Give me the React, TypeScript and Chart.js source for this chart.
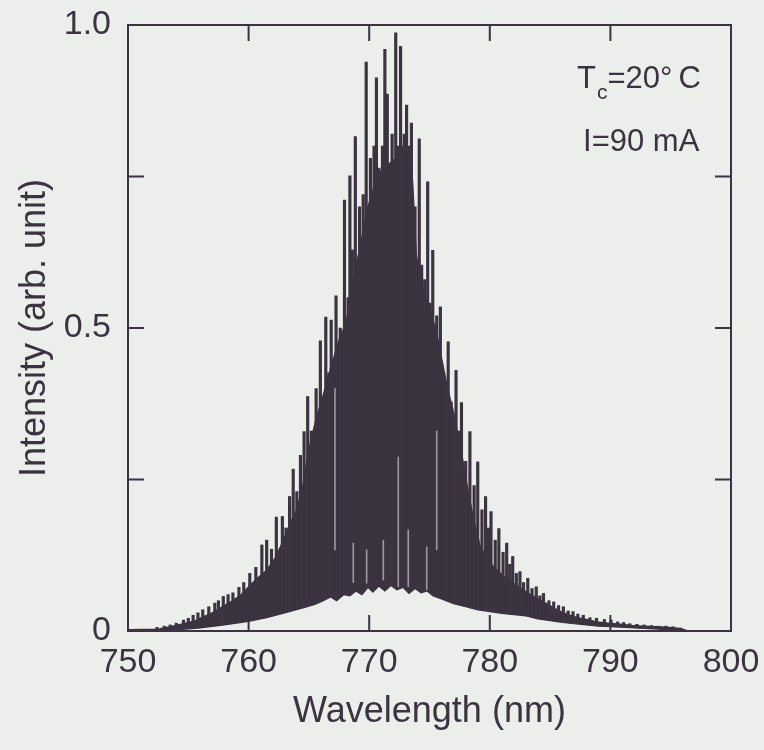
import React, { useEffect, useRef } from "react";
import { Chart, registerables } from "chart.js";

Chart.register(...registerables);

const FONT = '"Liberation Sans", Arial, Helvetica, sans-serif';
const INK = "#3b3340";
const PAPER = "#eceeeb";
const GAP = "#9b96a0";

// ---- axis ticks ----
const xTickValues = [750, 760, 770, 780, 790, 800];
const yTickValues = [0, 0.25, 0.5, 0.75, 1.0];
const yTickLabels = ["0", "", "0.5", "", "1.0"];

// ---- dense "body" of the spectrum: upper envelope of the solid dark region ----
const bodyWavelengths = [
  750, 752.5, 753.2, 754.0, 754.6, 755.5, 756.0, 756.8, 757.4, 758.0, 758.7, 759.4,
  760.1, 760.8, 761.5, 762.2, 762.9, 763.5, 764.0, 764.5, 765.0, 765.6, 766.2, 766.9,
  767.5, 768.1, 768.7, 769.3, 769.9, 770.5, 771.0, 771.6, 772.2, 772.8, 773.3, 773.6,
  773.9, 774.5, 775.0, 775.5, 776.0, 776.5, 777.0, 777.6, 778.2, 778.7, 779.2, 779.9,
  780.6, 781.2, 781.9, 782.6, 783.3, 784.0, 784.7, 785.4, 786.1, 786.8, 787.5, 788.2,
  788.9, 789.8, 790.8, 791.8, 792.8, 793.8, 794.6, 795.4, 796.0, 796.4, 800,
];
const bodyTop = [
  0.002, 0.003, 0.006, 0.009, 0.012, 0.016, 0.021, 0.028, 0.035, 0.042, 0.050, 0.060,
  0.075, 0.088, 0.10, 0.12, 0.15, 0.18, 0.20, 0.24, 0.30, 0.35, 0.39, 0.44,
  0.48, 0.51, 0.58, 0.64, 0.70, 0.74, 0.76, 0.77, 0.78, 0.80, 0.79, 0.74,
  0.62, 0.56, 0.53, 0.50, 0.45, 0.40, 0.36, 0.30, 0.23, 0.18, 0.14, 0.115,
  0.10, 0.09, 0.08, 0.07, 0.061, 0.053, 0.045, 0.037, 0.030, 0.025, 0.021, 0.018,
  0.015, 0.013, 0.011, 0.009, 0.008, 0.007, 0.006, 0.005, 0.003, 0.0, 0.0,
];

// ---- lower edge (minima) of the mode oscillation ----
const floorWavelengths = [
  750, 752.5, 754, 756, 758, 760, 761.5, 763, 764.5, 765.5, 766.2, 766.8, 767.3, 767.9,
  768.4, 768.9, 769.4, 769.9, 770.3, 770.8, 771.3, 771.8, 772.3, 772.8, 773.3, 773.8,
  774.3, 774.8, 775.3, 776, 777, 778, 779, 780, 781, 782, 783, 784,
  785, 786, 787, 788, 789, 790, 792, 794, 796, 800,
];
const floorLevel = [
  0, 0, 0.002, 0.005, 0.01, 0.016, 0.022, 0.03, 0.038, 0.044, 0.05, 0.056, 0.05, 0.06,
  0.058, 0.066, 0.06, 0.072, 0.064, 0.074, 0.066, 0.075, 0.068, 0.072, 0.062, 0.07,
  0.063, 0.066, 0.058, 0.053, 0.045, 0.04, 0.035, 0.032, 0.029, 0.027, 0.025, 0.02,
  0.017, 0.014, 0.012, 0.01, 0.008, 0.007, 0.005, 0.003, 0, 0,
];

// ---- light gaps between modes inside the dense body ----
const gapWavelengths = [767.16, 768.68, 769.79, 771.17, 772.41, 773.24, 774.77, 775.6];
const gapLow = [0.134, 0.08, 0.079, 0.084, 0.073, 0.073, 0.068, 0.134];
const gapHigh = [0.40, 0.145, 0.134, 0.15, 0.287, 0.167, 0.139, 0.33];

// ---- individual longitudinal-mode spikes ----
const spikeWavelengths = [
  752.4, 753.0, 753.5, 754.0, 754.6, 755.0, 755.4, 755.8, 756.2, 756.7, 757.2, 757.5,
  757.9, 758.3, 758.7, 759.2, 759.6, 760.1, 760.6, 761.1, 761.5, 761.9, 762.3, 762.8,
  763.1, 763.4, 763.7, 764.0, 764.3, 764.6, 764.9, 765.2, 765.6, 765.95, 766.4, 766.65,
  766.85, 767.25, 767.6, 767.95, 768.25, 768.4, 768.6, 768.85, 769.2, 769.5, 769.75, 770.1,
  770.4, 770.6, 770.8, 771.1, 771.3, 771.5, 771.9, 772.2, 772.4, 772.6, 772.9, 773.1,
  773.3, 773.5, 773.8, 774.15, 774.35, 774.6, 774.85, 775.05, 775.27, 775.6, 775.9, 776.15,
  776.55, 776.8, 777.2, 777.4, 777.65, 778.0, 778.35, 778.7, 779.0, 779.35, 779.65, 779.9,
  780.1, 780.45, 780.75, 781.1, 781.4, 781.65, 781.9, 782.2, 782.5, 782.8, 783.15, 783.5,
  783.85, 784.15, 784.45, 784.9, 785.3, 785.7, 786.1, 786.5, 786.9, 787.3, 787.75, 788.3,
  788.85, 789.5, 790.05, 790.6, 791.1, 791.6, 792.2, 792.8, 793.4, 794.0, 794.6, 795.2, 795.8,
];
const spikeHeights = [
  0.006, 0.008, 0.010, 0.013, 0.018, 0.021, 0.026, 0.030, 0.035, 0.040, 0.046, 0.050,
  0.057, 0.060, 0.063, 0.072, 0.080, 0.095, 0.105, 0.142, 0.150, 0.135, 0.188, 0.189,
  0.170, 0.222, 0.267, 0.230, 0.290, 0.329, 0.387, 0.330, 0.400, 0.479, 0.518, 0.426,
  0.513, 0.553, 0.500, 0.711, 0.550, 0.751, 0.629, 0.816, 0.700, 0.720, 0.939, 0.780,
  0.800, 0.913, 0.764, 0.800, 0.960, 0.886, 0.820, 0.987, 0.800, 0.965, 0.820, 0.868,
  0.800, 0.838, 0.700, 0.812, 0.604, 0.580, 0.741, 0.541, 0.628, 0.520, 0.535, 0.409,
  0.477, 0.378, 0.430, 0.330, 0.377, 0.280, 0.329, 0.240, 0.279, 0.200, 0.222, 0.170,
  0.197, 0.150, 0.169, 0.130, 0.145, 0.110, 0.123, 0.095, 0.098, 0.080, 0.087, 0.070,
  0.073, 0.058, 0.062, 0.050, 0.048, 0.042, 0.040, 0.033, 0.032, 0.028, 0.026, 0.022,
  0.021, 0.019, 0.018, 0.015, 0.014, 0.012, 0.011, 0.010, 0.009, 0.008, 0.008, 0.007, 0.005,
];

// ---- annotation anchors (data coordinates) ----
const annotTemp = { x: 787.23, y: 0.896 };
const annotCurrent = { x: 787.73, y: 0.792 };

// target plot box inside the 764x750 canvas
const BOX = { left: 128, top: 25, right: 731, bottom: 631 };

const framePlugin = {
  id: "frame",
  afterDatasetsDraw(chart: any) {
    const { ctx, chartArea: a, scales } = chart;
    const xs = scales.x;
    const ys = scales.y;
    ctx.save();
    ctx.strokeStyle = INK;
    ctx.lineWidth = 2;
    ctx.strokeRect(a.left, a.top, a.right - a.left, a.bottom - a.top);
    const L = 16;
    ctx.beginPath();
    xTickValues.slice(1, -1).forEach((v) => {
      const px = xs.getPixelForValue(v);
      ctx.moveTo(px, a.bottom);
      ctx.lineTo(px, a.bottom - L);
      ctx.moveTo(px, a.top);
      ctx.lineTo(px, a.top + L);
    });
    yTickValues.slice(1, -1).forEach((v) => {
      const py = ys.getPixelForValue(v);
      ctx.moveTo(a.left, py);
      ctx.lineTo(a.left + L, py);
      ctx.moveTo(a.right, py);
      ctx.lineTo(a.right - L, py);
    });
    ctx.stroke();

    // annotation text
    ctx.fillStyle = INK;
    ctx.textBaseline = "alphabetic";
    ctx.textAlign = "left";
    const tx = xs.getPixelForValue(annotTemp.x);
    const ty = ys.getPixelForValue(annotTemp.y);
    ctx.font = `31px ${FONT}`;
    ctx.fillText("T", tx, ty);
    const wT = ctx.measureText("T").width;
    ctx.font = `21px ${FONT}`;
    ctx.fillText("c", tx + wT + 1, ty + 11);
    const wc = ctx.measureText("c").width;
    ctx.font = `31px ${FONT}`;
    ctx.fillText("=20°\u2009C", tx + wT + wc + 1, ty);
    ctx.fillText(
      "I=90 mA",
      xs.getPixelForValue(annotCurrent.x),
      ys.getPixelForValue(annotCurrent.y)
    );
    ctx.restore();
  },
};

const zeroPad = (s: any) => {
  s.paddingTop = 0;
  s.paddingBottom = 0;
  s.paddingLeft = 0;
  s.paddingRight = 0;
};

export default function App() {
  const ref = useRef<HTMLCanvasElement | null>(null);

  useEffect(() => {
    document.body.style.margin = "0";
    document.body.style.background = PAPER;
    const canvas = ref.current;
    if (!canvas) return;

    const body = bodyWavelengths.map((x, i) => ({ x, y: bodyTop[i] }));
    const floor = floorWavelengths.map((x, i) => ({ x, y: floorLevel[i] }));
    const spikes = spikeWavelengths.map((x, i) => ({ x, y: spikeHeights[i] }));
    const gaps = gapWavelengths.map((x, i) => ({ x, y: [gapLow[i], gapHigh[i]] }));

    const padding = { top: BOX.top, right: 764 - BOX.right, left: 0, bottom: 0 };

    const chart = new Chart(canvas, {
      data: {
        datasets: [
          {
            type: "line",
            data: body,
            borderColor: INK,
            borderWidth: 1.5,
            backgroundColor: INK,
            fill: "origin",
            pointRadius: 0,
            tension: 0,
            order: 4,
          } as any,
          {
            type: "bar",
            data: spikes,
            backgroundColor: INK,
            borderWidth: 0,
            barThickness: 2.5,
            grouped: false,
            order: 3,
          } as any,
          {
            type: "bar",
            data: gaps,
            backgroundColor: GAP,
            borderWidth: 0,
            barThickness: 1,
            grouped: false,
            order: 2,
          } as any,
          {
            type: "line",
            data: floor,
            borderColor: INK,
            borderWidth: 1.2,
            backgroundColor: PAPER,
            fill: "origin",
            pointRadius: 0,
            tension: 0,
            order: 1,
          } as any,
        ],
      },
      options: {
        animation: false,
        responsive: false,
        layout: { padding },
        plugins: {
          legend: { display: false },
          tooltip: { enabled: false },
        },
        scales: {
          x: {
            type: "linear",
            min: 750,
            max: 800,
            offset: false,
            grid: { display: false },
            border: { display: false },
            afterBuildTicks: (s: any) => {
              s.ticks = xTickValues.map((v) => ({ value: v }));
            },
            afterFit: (s: any) => {
              s.height = 750 - BOX.bottom;
              zeroPad(s);
            },
            ticks: {
              color: INK,
              font: { family: FONT, size: 34 },
              padding: 3,
              maxRotation: 0,
              autoSkip: false,
              callback: (v: any) => String(v),
            },
            title: {
              display: true,
              text: "Wavelength (nm)",
              color: INK,
              font: { family: FONT, size: 36 },
              padding: { top: 0, bottom: 16 },
            },
          },
          y: {
            type: "linear",
            min: 0,
            max: 1,
            grid: { display: false },
            border: { display: false },
            afterBuildTicks: (s: any) => {
              s.ticks = yTickValues.map((v) => ({ value: v }));
            },
            afterFit: (s: any) => {
              s.width = BOX.left;
              zeroPad(s);
            },
            ticks: {
              color: INK,
              font: { family: FONT, size: 34 },
              padding: 9,
              autoSkip: false,
              callback: (_v: any, i: number) => yTickLabels[i],
            },
            title: {
              display: true,
              text: "Intensity (arb. unit)",
              color: INK,
              font: { family: FONT, size: 36 },
              padding: { top: 13, bottom: 0 },
            },
          },
        },
      },
      plugins: [framePlugin],
    } as any);

    // nudge layout padding so the plot box lands exactly on the target
    for (let k = 0; k < 2; k++) {
      const a = chart.chartArea;
      const dTop = a.top - BOX.top;
      const dRight = BOX.right - a.right;
      const dLeft = a.left - BOX.left;
      const dBottom = BOX.bottom - a.bottom;
      if (Math.abs(dTop) + Math.abs(dRight) + Math.abs(dLeft) + Math.abs(dBottom) < 0.5) break;
      const p: any = (chart.options as any).layout.padding;
      p.top = Math.max(0, p.top - dTop);
      p.right = Math.max(0, p.right - dRight);
      p.left = Math.max(0, p.left - dLeft);
      p.bottom = Math.max(0, p.bottom - dBottom);
      chart.update();
    }

    return () => chart.destroy();
  }, []);

  return (
    <div style={{ width: 764, height: 750 }}>
      <canvas ref={ref} width={764} height={750} style={{ display: "block" }} />
    </div>
  );
}
